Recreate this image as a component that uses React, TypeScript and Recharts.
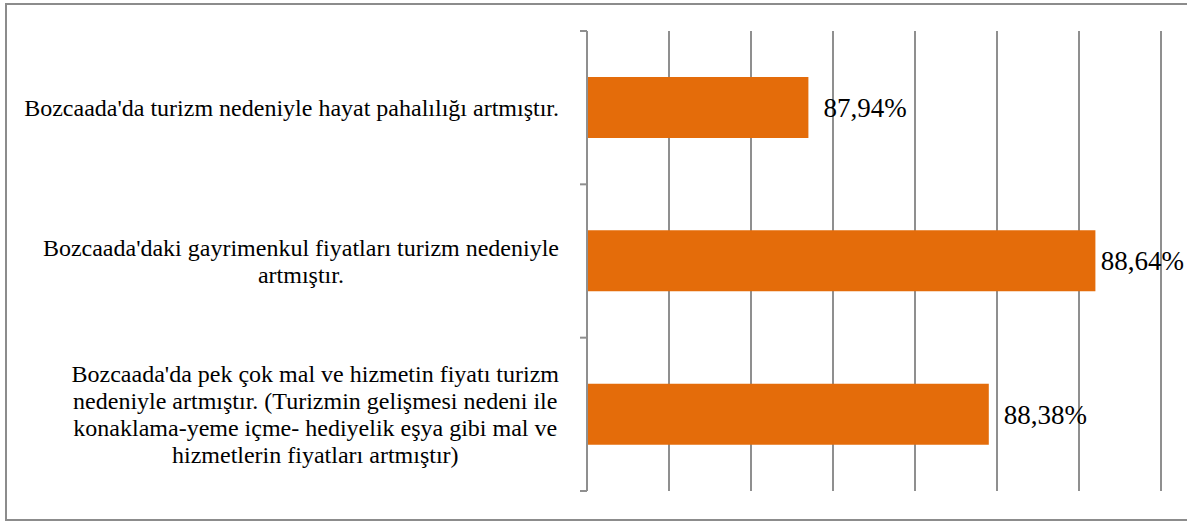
import { BarChart, Bar, XAxis, YAxis, CartesianGrid, LabelList } from "recharts";

const categories = [
  "Bozcaada'da turizm nedeniyle hayat pahalılığı artmıştır.",
  "Bozcaada'daki gayrimenkul fiyatları turizm nedeniyle\nartmıştır.",
  "Bozcaada'da pek çok mal ve hizmetin fiyatı turizm\nnedeniyle artmıştır. (Turizmin gelişmesi nedeni ile\nkonaklama-yeme içme- hediyelik eşya gibi mal ve\nhizmetlerin fiyatları artmıştır)",
];
const values = [87.94, 88.64, 88.38];
const xTicks = [87.4, 87.6, 87.8, 88.0, 88.2, 88.4, 88.6, 88.8];

const data = categories.map((c, i) => ({ label: c, value: values[i] }));

const FONT = "'Liberation Serif', 'Times New Roman', serif";
const W = 1187;
const H = 523;
const MARGIN = { top: 31, right: 26, bottom: 32, left: 0 };
const AXIS_X = 587;
const LABEL_RIGHT = 559;
const LINE_H = 27;
const LABEL_SIZE = 24;
const VALUE_SIZE = 27;
const GRAY = "#8f8f8f";
const BAND = (H - MARGIN.top - MARGIN.bottom) / categories.length;

let ctx: CanvasRenderingContext2D | null = null;
function measure(text: string, size = LABEL_SIZE) {
  if (!ctx) ctx = document.createElement("canvas").getContext("2d");
  if (!ctx) return text.length * size * 0.45;
  ctx.font = `${size}px ${FONT}`;
  return ctx.measureText(text).width;
}

const fmt = (v: number) => `${v.toFixed(2).replace(".", ",")}%`;

function CategoryTick(props: any) {
  const { y, payload, index } = props;
  const lines = String(payload.value).split("\n");
  const blockW = Math.max(...lines.map((l) => measure(l)));
  const cx = LABEL_RIGHT - blockW / 2;
  const startY = y - ((lines.length - 1) * LINE_H) / 2;
  return (
    <g>
      <line x1={AXIS_X - 7} x2={AXIS_X} y1={y - BAND / 2} y2={y - BAND / 2} stroke={GRAY} strokeWidth={2} />
      {index === categories.length - 1 && (
        <line x1={AXIS_X - 7} x2={AXIS_X} y1={y + BAND / 2} y2={y + BAND / 2} stroke={GRAY} strokeWidth={2} />
      )}
      <text textAnchor="middle" fontFamily={FONT} fontSize={LABEL_SIZE} fill="#000">
        {lines.map((l, i) => (
          <tspan key={i} x={cx} y={startY + i * LINE_H} dy="0.35em">
            {l}
          </tspan>
        ))}
      </text>
    </g>
  );
}

const EmptyTick = () => <g />;

function ValueLabel(props: any) {
  const { x, y, width, height, value } = props;
  const text = fmt(Number(value));
  const tw = measure(text, VALUE_SIZE);
  // keep the label inside the chart frame, like the original does for the longest bar
  const lx = Math.min(x + width + 15, W - tw - 3);
  return (
    <text x={lx} y={y + height / 2} dy="0.35em" fontFamily={FONT} fontSize={VALUE_SIZE} fill="#000">
      {text}
    </text>
  );
}

export default function App() {
  return (
    <div style={{ position: "absolute", left: 0, top: 0, width: W, height: H, background: "#fff", overflow: "hidden" }}>
      <div
        style={{
          position: "absolute",
          left: 5,
          top: 3,
          width: 1200,
          height: 518,
          boxSizing: "border-box",
          border: "2px solid #8c8c8c",
        }}
      />
      <div style={{ position: "absolute", left: 0, top: 0 }}>
        <BarChart width={W} height={H} data={data} layout="vertical" margin={MARGIN} barCategoryGap="30%">
          <CartesianGrid vertical horizontal={false} stroke={GRAY} strokeWidth={2} />
          <XAxis
            type="number"
            domain={[87.4, 88.8]}
            ticks={xTicks}
            tick={EmptyTick}
            tickLine={false}
            axisLine={false}
            height={0}
            interval={0}
            allowDataOverflow
          />
          <YAxis
            type="category"
            dataKey="label"
            width={AXIS_X}
            tickLine={false}
            axisLine={{ stroke: GRAY, strokeWidth: 2 }}
            tick={<CategoryTick />}
            interval={0}
          />
          <Bar dataKey="value" fill="#E46C0A" isAnimationActive={false}>
            <LabelList dataKey="value" content={<ValueLabel />} />
          </Bar>
        </BarChart>
      </div>
    </div>
  );
}
